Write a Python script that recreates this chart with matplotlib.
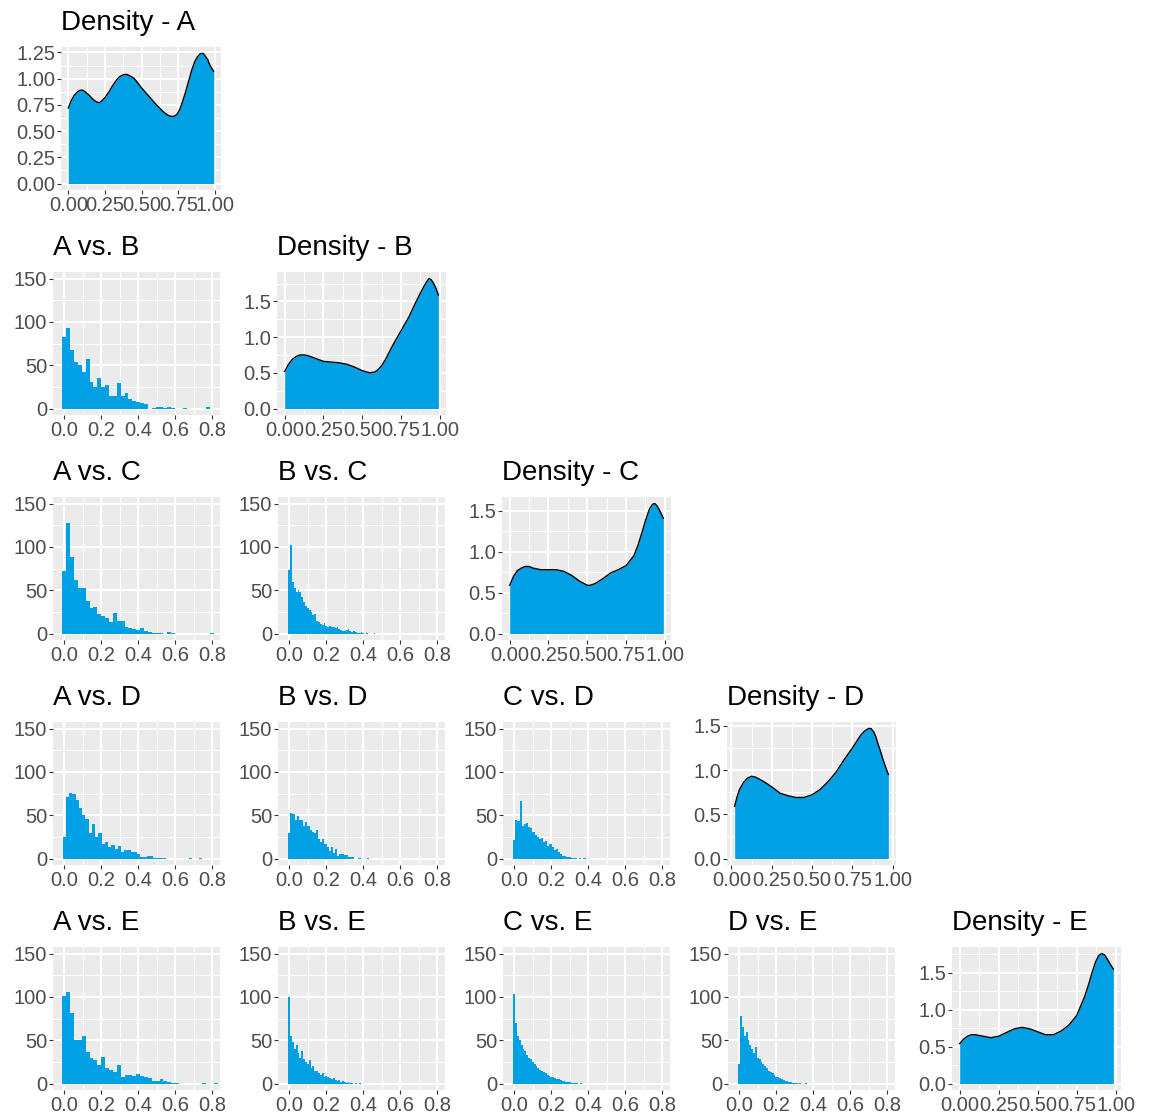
import numpy as np
import matplotlib
matplotlib.use('agg')
import matplotlib.pyplot as plt
from matplotlib.ticker import MultipleLocator, FormatStrFormatter

plt.rcParams['font.family'] = ['Liberation Sans', 'DejaVu Sans']

# variables on the diagonal
names = ['A', 'B', 'C', 'D', 'E']

# density curves (x, density)
dens_A_x = [0.0, 0.02, 0.04, 0.06, 0.08, 0.10, 0.12, 0.15, 0.17, 0.19, 0.21, 0.23, 0.25, 0.28,
            0.30, 0.33, 0.35, 0.38, 0.40, 0.43, 0.45, 0.50, 0.55, 0.60, 0.65, 0.68, 0.70,
            0.72, 0.74, 0.76, 0.78, 0.80, 0.82, 0.84, 0.86, 0.88, 0.90, 0.92, 0.93, 0.95,
            0.96, 0.98, 0.99]
dens_A_y = [0.72, 0.79, 0.84, 0.87, 0.89, 0.89, 0.87, 0.83, 0.80, 0.78, 0.77, 0.79, 0.82, 0.88,
            0.93, 0.99, 1.02, 1.04, 1.04, 1.02, 1.00, 0.91, 0.83, 0.75, 0.68, 0.65, 0.64,
            0.64, 0.66, 0.71, 0.79, 0.88, 0.98, 1.08, 1.16, 1.21, 1.24, 1.24, 1.22, 1.18,
            1.14, 1.09, 1.07]

dens_B_x = [0.0, 0.025, 0.05, 0.075, 0.10, 0.125, 0.15, 0.20, 0.25, 0.30, 0.35, 0.40, 0.45,
            0.50, 0.53, 0.55, 0.58, 0.60, 0.625, 0.65, 0.70, 0.75, 0.80, 0.85, 0.88, 0.90,
            0.92, 0.93, 0.945, 0.96, 0.975, 0.99]
dens_B_y = [0.52, 0.62, 0.69, 0.73, 0.75, 0.75, 0.74, 0.70, 0.66, 0.65, 0.64, 0.62, 0.58,
            0.53, 0.51, 0.50, 0.51, 0.54, 0.60, 0.69, 0.90, 1.09, 1.28, 1.51, 1.64, 1.72,
            1.79, 1.82, 1.80, 1.75, 1.68, 1.59]

dens_C_x = [0.0, 0.025, 0.05, 0.075, 0.10, 0.125, 0.15, 0.20, 0.25, 0.30, 0.35, 0.40, 0.45,
            0.48, 0.50, 0.52, 0.55, 0.60, 0.65, 0.70, 0.75, 0.80, 0.825, 0.85, 0.875, 0.90,
            0.92, 0.935, 0.95, 0.965, 0.98, 0.99]
dens_C_y = [0.59, 0.70, 0.77, 0.80, 0.82, 0.82, 0.80, 0.78, 0.78, 0.78, 0.76, 0.71, 0.64,
            0.61, 0.59, 0.59, 0.61, 0.67, 0.74, 0.78, 0.83, 0.95, 1.07, 1.22, 1.38, 1.52,
            1.58, 1.59, 1.56, 1.51, 1.45, 1.41]

dens_D_x = [0.02, 0.035, 0.05, 0.075, 0.10, 0.125, 0.15, 0.20, 0.25, 0.30, 0.35, 0.40, 0.45,
            0.50, 0.55, 0.60, 0.65, 0.70, 0.75, 0.80, 0.825, 0.85, 0.865, 0.88, 0.895,
            0.91, 0.925, 0.94, 0.955, 0.973]
dens_D_y = [0.59, 0.70, 0.78, 0.86, 0.91, 0.93, 0.92, 0.87, 0.81, 0.74, 0.71, 0.69, 0.69,
            0.72, 0.78, 0.87, 0.98, 1.12, 1.25, 1.39, 1.44, 1.47, 1.47, 1.44, 1.38,
            1.29, 1.21, 1.12, 1.04, 0.95]

dens_E_x = [0.0, 0.025, 0.05, 0.075, 0.10, 0.15, 0.20, 0.25, 0.30, 0.35, 0.40, 0.45, 0.50,
            0.55, 0.60, 0.65, 0.70, 0.75, 0.80, 0.825, 0.85, 0.87, 0.89, 0.91, 0.93, 0.95,
            0.97, 0.985]
dens_E_y = [0.54, 0.60, 0.64, 0.66, 0.66, 0.64, 0.62, 0.64, 0.69, 0.74, 0.76, 0.74, 0.70,
            0.66, 0.66, 0.71, 0.79, 0.92, 1.17, 1.33, 1.51, 1.64, 1.73, 1.76, 1.74, 1.67,
            1.60, 1.55]

dens_x = [dens_A_x, dens_B_x, dens_C_x, dens_D_x, dens_E_x]
dens_y = [dens_A_y, dens_B_y, dens_C_y, dens_D_y, dens_E_y]

# histogram counts of pairwise differences, first bin centred on 0
hist_AB = [83, 93, 68, 54, 50, 42, 57, 31, 25, 35, 25, 27, 15, 15, 30, 15, 18, 11, 9, 7,
           6, 5, 0, 1, 2, 2, 1, 2, 1, 0, 0, 1, 0, 0, 0, 0, 0, 2]
hist_AC = [72, 127, 88, 62, 53, 52, 38, 29, 31, 22, 20, 18, 13, 24, 14, 14, 8, 6, 5, 4,
           6, 3, 2, 1, 1, 1, 0, 2, 1, 0, 0, 0, 0, 0, 0, 0, 0, 0, 1]
hist_BC = [73, 102, 60, 52, 48, 50, 48, 42, 36, 32, 30, 27, 25, 21, 22, 15, 13, 11, 10, 12,
           9, 8, 9, 7, 7, 6, 7, 5, 4, 3, 3, 4, 5, 3, 2, 3, 2, 1, 1, 2, 1, 0, 1, 0, 0, 0, 1]
hist_AD = [25, 71, 76, 75, 68, 58, 50, 46, 30, 40, 25, 30, 17, 19, 13, 16, 11, 14, 8, 10,
           10, 8, 8, 5, 2, 2, 3, 3, 1, 1, 1, 1, 0, 0, 0, 0, 0, 0, 0, 1, 0, 0, 1]
hist_BD = [30, 52, 51, 45, 49, 44, 44, 38, 42, 37, 33, 31, 29, 33, 23, 19, 23, 17, 13, 9,
           13, 6, 11, 3, 5, 5, 4, 4, 2, 2, 2, 0, 0, 1, 0, 0, 0, 1]
hist_CD = [21, 44, 43, 66, 38, 40, 41, 36, 35, 31, 27, 25, 23, 24, 19, 20, 15, 17, 13, 10,
           11, 7, 5, 3, 3, 2, 2, 1, 1, 1, 0, 1, 0, 1]
hist_AE = [101, 106, 81, 50, 50, 55, 36, 29, 27, 21, 31, 18, 16, 13, 21, 8, 10, 10, 9, 11,
           9, 7, 6, 3, 3, 5, 3, 2, 1, 1, 0, 0, 0, 0, 0, 0, 1, 0, 0, 1]
hist_BE = [100, 55, 48, 40, 45, 35, 30, 38, 28, 25, 22, 27, 18, 20, 15, 14, 12, 10, 12, 8,
           9, 7, 6, 5, 6, 4, 3, 4, 2, 3, 2, 1, 2, 1, 1, 0, 1, 0, 1]
hist_CE = [103, 70, 55, 50, 45, 40, 38, 33, 30, 28, 25, 22, 20, 18, 16, 14, 13, 12, 10, 9,
           8, 7, 6, 5, 5, 4, 3, 3, 2, 2, 2, 1, 1, 1, 1, 0, 1]
hist_DE = [22, 78, 65, 55, 60, 50, 45, 40, 35, 42, 30, 28, 25, 22, 20, 18, 15, 13, 12, 10,
           8, 7, 6, 5, 4, 3, 3, 2, 2, 1, 1, 1, 0, 1, 0, 0, 1]

# (row, col) -> counts, bin width
hists = {
    (1, 0): (hist_AB, 0.021),
    (2, 0): (hist_AC, 0.021),
    (2, 1): (hist_BC, 0.010),
    (3, 0): (hist_AD, 0.0175),
    (3, 1): (hist_BD, 0.0115),
    (3, 2): (hist_CD, 0.0115),
    (4, 0): (hist_AE, 0.021),
    (4, 1): (hist_BE, 0.010),
    (4, 2): (hist_CE, 0.010),
    (4, 3): (hist_DE, 0.010),
}

FILL = '#00A0E4'
W, H = 1152, 1116
CELL = 225

fig = plt.figure(figsize=(W / 100, H / 100), dpi=100)


def px_axes(left, top, right, bottom):
    return fig.add_axes([left / W, 1 - bottom / H, (right - left) / W, (bottom - top) / H])


def gg_style(ax, xstep, ystep, xfmt, yfmt):
    ax.set_facecolor('#EBEBEB')
    for s in ax.spines.values():
        s.set_visible(False)
    ax.set_axisbelow(True)
    ax.xaxis.set_major_locator(MultipleLocator(xstep))
    ax.xaxis.set_minor_locator(MultipleLocator(xstep / 2))
    ax.yaxis.set_major_locator(MultipleLocator(ystep))
    ax.yaxis.set_minor_locator(MultipleLocator(ystep / 2))
    ax.xaxis.set_major_formatter(FormatStrFormatter(xfmt))
    ax.yaxis.set_major_formatter(FormatStrFormatter(yfmt))
    ax.grid(which='major', color='white', linewidth=1.4)
    ax.grid(which='minor', color='white', linewidth=0.7)
    ax.tick_params(which='major', direction='out', length=2.8, width=0.8, color='#333333',
                   labelsize=14.5, labelcolor='#4D4D4D', pad=1.5)
    ax.tick_params(which='minor', length=0)


for r in range(5):
    for c in range(r + 1):
        x0, y0 = c * CELL, r * CELL
        if r == c:
            left = x0 + (61 if r == 0 else 52)
            ax = px_axes(left, y0 + 47, x0 + 221, y0 + 190)
            xs, ys = dens_x[r], dens_y[r]
            ax.fill_between(xs, 0, ys, color=FILL, linewidth=0)
            ax.plot(xs, ys, color='black', linewidth=1.0)
            ax.margins(x=0.05, y=0.05)
            if r == 0:
                gg_style(ax, 0.25, 0.25, '%.2f', '%.2f')
            else:
                gg_style(ax, 0.25, 0.5, '%.2f', '%.1f')
            title = 'Density - ' + names[r]
        else:
            ax = px_axes(x0 + 53, y0 + 47, x0 + 220, y0 + 190)
            counts, bw = hists[(r, c)]
            centers = np.arange(len(counts)) * bw
            ax.bar(centers, counts, width=bw, color=FILL, linewidth=0)
            ax.set_xlim(-0.061, 0.841)
            ax.set_ylim(-7.5, 157.5)
            gg_style(ax, 0.2, 50, '%.1f', '%d')
            title = names[c] + ' vs. ' + names[r]
        ax.set_title(title, loc='left', fontsize=20, pad=12, color='black')

fig.savefig('out.png', dpi=100, facecolor='white')
